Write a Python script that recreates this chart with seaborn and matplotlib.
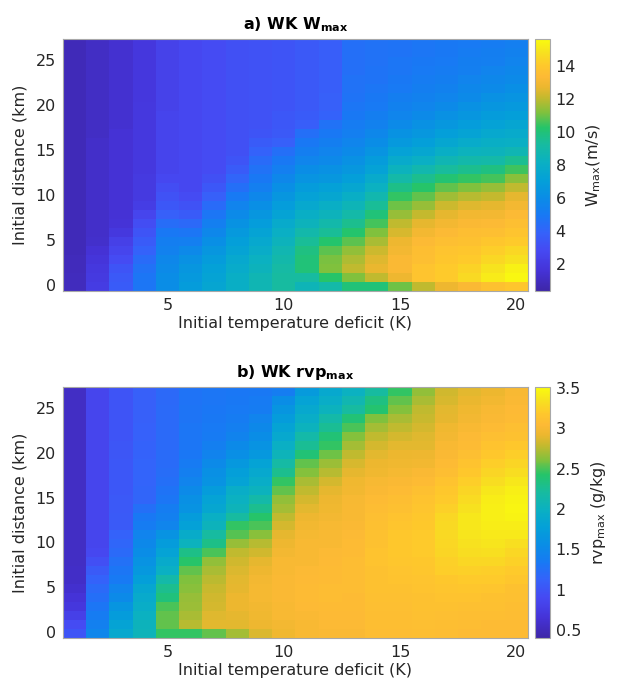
import numpy as np
import pandas as pd
import matplotlib
matplotlib.use("Agg")
import matplotlib.pyplot as plt
import seaborn as sns
from matplotlib.colors import LinearSegmentedColormap

# ---- data ----
DEFICIT = list(range(1, 21))      # initial temperature deficit (K)
DISTANCE = list(range(0, 28))     # initial distance (km)

# W_max (m/s): one list per deficit column, from distance 0 to 27 km
W_MAX = [
    [0.9, 0.9, 0.85, 0.85, 0.8, 0.8, 0.8, 0.8, 0.8, 0.8, 0.8, 0.8, 0.8, 0.8, 0.8, 0.8, 0.8, 0.8, 0.8, 0.8, 0.8, 0.8, 0.8, 0.8, 0.8, 0.8, 0.8, 0.8],
    [2.1, 2.0, 1.9, 1.7, 1.5, 1.3, 1.2, 1.2, 1.2, 1.2, 1.2, 1.2, 1.2, 1.2, 1.2, 1.2, 1.2, 1.1, 1.1, 1.1, 1.1, 1.1, 1.1, 1.1, 1.1, 1.1, 1.1, 1.1],
    [3.6, 3.5, 3.3, 2.9, 2.6, 2.3, 1.9, 1.6, 1.5, 1.5, 1.5, 1.5, 1.5, 1.5, 1.5, 1.5, 1.5, 1.5, 1.4, 1.4, 1.4, 1.4, 1.4, 1.4, 1.4, 1.4, 1.4, 1.4],
    [4.8, 4.8, 4.6, 4.3, 3.9, 3.6, 3.3, 3.0, 2.6, 2.2, 2.0, 2.0, 2.0, 1.9, 1.9, 1.9, 1.9, 1.9, 1.9, 1.9, 1.9, 1.8, 1.8, 1.8, 1.8, 1.8, 1.8, 1.8],
    [6.0, 6.0, 5.9, 5.7, 5.4, 5.2, 4.9, 4.4, 3.8, 3.4, 3.2, 3.0, 2.7, 2.5, 2.5, 2.5, 2.5, 2.5, 2.5, 2.5, 2.4, 2.4, 2.4, 2.4, 2.4, 2.4, 2.4, 2.4],
    [6.8, 6.7, 6.5, 6.2, 5.8, 5.3, 4.8, 4.2, 3.6, 3.2, 2.9, 2.7, 2.7, 2.7, 2.7, 2.7, 2.7, 2.7, 2.7, 2.7, 2.7, 2.7, 2.7, 2.7, 2.7, 2.7, 2.7, 2.7],
    [7.4, 7.3, 7.1, 6.8, 6.5, 6.1, 5.7, 5.3, 4.8, 4.3, 3.8, 3.4, 3.1, 2.9, 2.9, 2.9, 2.9, 2.9, 2.9, 2.9, 2.9, 2.9, 2.9, 2.9, 2.9, 2.9, 2.9, 2.9],
    [8.0, 8.0, 7.8, 7.6, 7.3, 7.0, 6.7, 6.3, 5.9, 5.5, 5.0, 4.5, 4.0, 3.6, 3.3, 3.1, 3.1, 3.1, 3.1, 3.1, 3.1, 3.1, 3.1, 3.1, 3.1, 3.1, 3.1, 3.1],
    [8.6, 8.6, 8.4, 8.2, 7.9, 7.6, 7.3, 6.9, 6.5, 6.1, 5.7, 5.3, 4.9, 4.6, 4.3, 3.9, 3.6, 3.3, 3.2, 3.2, 3.2, 3.2, 3.2, 3.2, 3.2, 3.2, 3.2, 3.2],
    [9.2, 9.2, 9.1, 8.9, 8.7, 8.4, 8.1, 7.7, 7.3, 6.9, 6.5, 6.1, 5.7, 5.3, 4.9, 4.5, 3.8, 3.5, 3.4, 3.4, 3.3, 3.3, 3.3, 3.3, 3.3, 3.3, 3.3, 3.3],
    [8.5, 9.2, 10.0, 10.0, 9.8, 9.4, 8.9, 8.4, 8.0, 7.6, 7.2, 6.8, 6.4, 6.0, 5.6, 5.2, 4.9, 4.5, 3.7, 3.6, 3.5, 3.5, 3.5, 3.5, 3.5, 3.5, 3.5, 3.5],
    [9.0, 10.3, 11.2, 11.1, 10.8, 10.2, 9.4, 8.9, 8.4, 8.0, 7.5, 7.1, 6.6, 6.2, 5.8, 5.5, 5.2, 4.9, 4.6, 3.9, 3.8, 3.8, 3.7, 3.7, 3.7, 3.7, 3.7, 3.7],
    [10.0, 11.2, 12.0, 11.8, 11.4, 10.8, 10.2, 9.6, 9.0, 8.5, 8.0, 7.5, 7.0, 6.6, 6.2, 5.9, 5.6, 5.3, 5.1, 4.9, 4.8, 4.7, 4.6, 4.6, 4.5, 4.5, 4.5, 4.5],
    [10.0, 12.0, 12.7, 12.5, 12.2, 11.7, 11.2, 10.6, 10.0, 9.4, 8.8, 8.2, 7.7, 7.2, 6.8, 6.4, 6.0, 5.7, 5.4, 5.2, 5.0, 4.9, 4.8, 4.7, 4.7, 4.6, 4.6, 4.6],
    [11.0, 12.8, 13.2, 13.2, 13.0, 12.8, 12.4, 12.0, 11.5, 11.0, 10.4, 9.7, 9.0, 8.3, 7.7, 7.2, 6.7, 6.3, 5.9, 5.6, 5.4, 5.2, 5.0, 4.9, 4.8, 4.8, 4.7, 4.7],
    [12.0, 13.8, 13.8, 13.6, 13.5, 13.3, 13.0, 12.6, 12.1, 11.5, 10.9, 10.3, 9.6, 8.8, 8.1, 7.5, 7.0, 6.6, 6.2, 5.9, 5.6, 5.4, 5.2, 5.1, 5.0, 4.9, 4.8, 4.8],
    [12.8, 14.1, 14.1, 13.9, 13.8, 13.6, 13.3, 13.0, 12.6, 12.2, 11.6, 10.9, 10.1, 9.3, 8.6, 8.0, 7.5, 7.0, 6.6, 6.2, 5.9, 5.6, 5.4, 5.2, 5.1, 5.0, 4.9, 4.9],
    [13.2, 14.6, 14.4, 14.1, 13.9, 13.7, 13.5, 13.2, 12.9, 12.5, 11.9, 11.2, 10.4, 9.6, 8.9, 8.3, 7.8, 7.3, 6.9, 6.5, 6.2, 5.9, 5.7, 5.5, 5.3, 5.2, 5.1, 5.0],
    [13.7, 15.1, 14.9, 14.5, 14.2, 13.9, 13.6, 13.3, 13.0, 12.6, 12.1, 11.5, 10.6, 9.8, 9.0, 8.4, 8.0, 7.6, 7.2, 6.8, 6.5, 6.2, 5.9, 5.7, 5.5, 5.3, 5.2, 5.1],
    [13.9, 15.5, 15.3, 14.8, 14.5, 14.1, 13.8, 13.6, 13.3, 13.0, 12.6, 12.0, 11.3, 10.5, 9.5, 8.6, 8.1, 7.7, 7.4, 7.0, 6.7, 6.4, 6.1, 5.9, 5.7, 5.5, 5.4, 5.3],
]

# rvp_max (g/kg), same layout
RVP_MAX = [
    [1.0, 0.92, 0.8, 0.7, 0.65, 0.6, 0.57, 0.56, 0.55, 0.55, 0.55, 0.55, 0.55, 0.55, 0.55, 0.55, 0.55, 0.55, 0.55, 0.55, 0.55, 0.55, 0.55, 0.55, 0.55, 0.55, 0.55, 0.55],
    [1.48, 1.42, 1.36, 1.3, 1.25, 1.2, 1.12, 1.05, 0.95, 0.88, 0.86, 0.86, 0.86, 0.86, 0.85, 0.85, 0.85, 0.85, 0.85, 0.85, 0.85, 0.85, 0.85, 0.85, 0.85, 0.85, 0.85, 0.85],
    [1.88, 1.82, 1.72, 1.65, 1.52, 1.45, 1.34, 1.3, 1.26, 1.2, 1.16, 1.12, 1.05, 1.05, 1.04, 1.04, 1.03, 1.03, 1.02, 1.02, 1.01, 1.01, 1.0, 1.0, 1.0, 1.0, 1.0, 1.0],
    [2.05, 2.03, 2.0, 1.95, 1.9, 1.85, 1.75, 1.68, 1.62, 1.55, 1.5, 1.45, 1.37, 1.33, 1.25, 1.15, 1.15, 1.14, 1.13, 1.13, 1.12, 1.12, 1.11, 1.11, 1.1, 1.1, 1.1, 1.1],
    [2.45, 2.55, 2.55, 2.5, 2.35, 2.28, 2.15, 1.98, 1.9, 1.8, 1.72, 1.62, 1.46, 1.42, 1.38, 1.3, 1.28, 1.25, 1.22, 1.21, 1.21, 1.2, 1.2, 1.2, 1.19, 1.19, 1.18, 1.18],
    [2.45, 2.75, 2.72, 2.68, 2.66, 2.63, 2.6, 2.55, 2.42, 2.3, 2.02, 1.92, 1.78, 1.72, 1.62, 1.58, 1.52, 1.45, 1.4, 1.35, 1.32, 1.31, 1.3, 1.3, 1.29, 1.29, 1.28, 1.28],
    [2.55, 2.88, 2.87, 2.84, 2.82, 2.8, 2.76, 2.72, 2.65, 2.5, 2.3, 2.2, 2.03, 1.97, 1.85, 1.8, 1.72, 1.62, 1.58, 1.52, 1.44, 1.4, 1.35, 1.34, 1.33, 1.32, 1.31, 1.3],
    [2.7, 2.88, 2.9, 2.92, 2.92, 2.9, 2.88, 2.86, 2.82, 2.78, 2.66, 2.52, 2.45, 2.2, 2.05, 2.0, 1.95, 1.8, 1.75, 1.68, 1.57, 1.52, 1.44, 1.4, 1.36, 1.34, 1.33, 1.32],
    [2.86, 2.93, 2.95, 2.96, 2.98, 2.98, 2.97, 2.93, 2.9, 2.82, 2.75, 2.63, 2.5, 2.42, 2.28, 2.15, 2.02, 1.95, 1.88, 1.8, 1.68, 1.62, 1.55, 1.5, 1.45, 1.37, 1.35, 1.33],
    [2.95, 2.97, 3.0, 3.01, 3.02, 3.02, 3.02, 3.01, 3.0, 2.97, 2.93, 2.9, 2.84, 2.78, 2.7, 2.65, 2.55, 2.45, 2.28, 2.18, 2.05, 1.97, 1.88, 1.82, 1.72, 1.65, 1.55, 1.38],
    [3.0, 3.01, 3.02, 3.04, 3.05, 3.05, 3.04, 3.03, 3.01, 3.0, 3.0, 2.98, 2.96, 2.93, 2.88, 2.84, 2.77, 2.72, 2.62, 2.55, 2.38, 2.25, 2.15, 2.02, 1.95, 1.87, 1.8, 1.7],
    [3.02, 3.03, 3.04, 3.06, 3.07, 3.07, 3.06, 3.05, 3.04, 3.03, 3.01, 3.0, 2.99, 2.97, 2.95, 2.93, 2.9, 2.83, 2.75, 2.68, 2.57, 2.45, 2.38, 2.25, 2.15, 2.02, 1.95, 1.88],
    [3.02, 3.03, 3.04, 3.05, 3.06, 3.07, 3.07, 3.07, 3.07, 3.06, 3.05, 3.03, 3.02, 3.01, 3.0, 2.99, 2.96, 2.94, 2.9, 2.85, 2.77, 2.7, 2.62, 2.5, 2.38, 2.2, 2.1, 2.0],
    [3.07, 3.08, 3.08, 3.09, 3.1, 3.11, 3.12, 3.12, 3.13, 3.13, 3.12, 3.11, 3.1, 3.09, 3.07, 3.05, 3.02, 2.99, 2.95, 2.92, 2.89, 2.84, 2.78, 2.7, 2.6, 2.4, 2.32, 2.2],
    [3.07, 3.08, 3.08, 3.09, 3.1, 3.12, 3.13, 3.14, 3.16, 3.17, 3.17, 3.17, 3.15, 3.13, 3.1, 3.08, 3.05, 3.02, 2.98, 2.95, 2.92, 2.88, 2.84, 2.78, 2.72, 2.62, 2.55, 2.45],
    [3.08, 3.09, 3.1, 3.11, 3.12, 3.13, 3.14, 3.16, 3.18, 3.2, 3.2, 3.2, 3.19, 3.17, 3.15, 3.13, 3.1, 3.06, 3.02, 2.96, 2.93, 2.89, 2.87, 2.84, 2.8, 2.77, 2.72, 2.65],
    [3.07, 3.08, 3.09, 3.12, 3.13, 3.15, 3.18, 3.22, 3.24, 3.27, 3.29, 3.3, 3.3, 3.28, 3.24, 3.2, 3.17, 3.13, 3.08, 3.05, 3.02, 3.0, 2.97, 2.94, 2.9, 2.88, 2.85, 2.82],
    [3.06, 3.07, 3.08, 3.1, 3.13, 3.16, 3.2, 3.24, 3.28, 3.32, 3.35, 3.37, 3.38, 3.38, 3.35, 3.31, 3.27, 3.22, 3.17, 3.13, 3.09, 3.06, 3.03, 3.0, 2.97, 2.94, 2.91, 2.88],
    [3.05, 3.06, 3.08, 3.1, 3.12, 3.15, 3.2, 3.23, 3.28, 3.33, 3.37, 3.4, 3.42, 3.43, 3.43, 3.42, 3.38, 3.32, 3.27, 3.22, 3.17, 3.13, 3.09, 3.06, 3.02, 3.0, 2.96, 2.92],
    [3.05, 3.06, 3.07, 3.08, 3.1, 3.12, 3.16, 3.2, 3.25, 3.28, 3.33, 3.39, 3.42, 3.45, 3.47, 3.46, 3.43, 3.38, 3.32, 3.27, 3.22, 3.17, 3.12, 3.09, 3.06, 3.04, 3.02, 3.0],
]

X_TICKS = [5, 10, 15, 20]
Y_TICKS = [0, 5, 10, 15, 20, 25]
W_CTICKS = [2, 4, 6, 8, 10, 12, 14]
RVP_CTICKS = [0.5, 1, 1.5, 2, 2.5, 3, 3.5]

# parula-like colormap (MATLAB default)
PARULA = LinearSegmentedColormap.from_list("parula", [
    (0.00, "#3E26A8"), (0.08, "#4533D8"), (0.16, "#4649F2"), (0.23, "#3562FA"),
    (0.30, "#1879F4"), (0.37, "#0A8DE6"), (0.44, "#04A0D8"), (0.51, "#0AB0C3"),
    (0.58, "#17BBA0"), (0.65, "#25C46A"), (0.71, "#80C13D"), (0.77, "#C6B92E"),
    (0.81, "#ECB72F"), (0.85, "#FDBA35"), (0.90, "#FEC92B"), (0.95, "#F7E11F"),
    (1.00, "#F9FB0E"),
])

sns.set_style("white")
plt.rcParams["font.family"] = ["DejaVu Sans"]
FS = 11.5
TXT = "#262626"
EDGE = "#a8a8a8"


def panel(fig, rect, crect, cols, vmin, vmax, cticks, title, clabel):
    ax = fig.add_axes(rect)
    cax = fig.add_axes(crect)
    df = pd.DataFrame(np.array(cols).T, index=DISTANCE, columns=DEFICIT)
    sns.heatmap(df, ax=ax, cbar_ax=cax, cmap=PARULA, vmin=vmin, vmax=vmax,
                linewidths=0, cbar_kws={"ticks": cticks})
    ax.invert_yaxis()

    ax.set_xticks([DEFICIT.index(v) + 0.5 for v in X_TICKS])
    ax.set_xticklabels([str(v) for v in X_TICKS], rotation=0)
    ax.set_yticks([DISTANCE.index(v) + 0.5 for v in Y_TICKS])
    ax.set_yticklabels([str(v) for v in Y_TICKS], rotation=0)
    ax.tick_params(direction="in", top=True, right=True, length=4, width=0.7,
                   color="#555555", labelsize=FS, labelcolor=TXT, pad=5)
    for s in ax.spines.values():
        s.set_visible(True)
        s.set_color(EDGE)
        s.set_linewidth(0.8)
    ax.set_xlabel("Initial temperature deficit (K)", fontsize=FS, color=TXT, labelpad=2)
    ax.set_ylabel("Initial distance (km)", fontsize=FS, color=TXT, labelpad=6)
    ax.set_title(title, fontsize=FS, fontweight="bold", color="black", pad=7)

    cb = ax.collections[0].colorbar
    cb.outline.set_linewidth(0.8)
    cb.outline.set_edgecolor(EDGE)
    cb.set_ticks(cticks)
    cb.set_ticklabels([f"{t:g}" for t in cticks])
    cax.tick_params(direction="in", length=3, width=0.6, color="#777777",
                    labelsize=FS, labelcolor=TXT, pad=4)
    cb.set_label(clabel, fontsize=FS, color=TXT, labelpad=6)
    return ax


fig = plt.figure(figsize=(6.17, 6.85), dpi=100)

panel(fig, [0.1021, 0.5752, 0.7536, 0.3679], [0.8671, 0.5752, 0.0243, 0.3679],
      W_MAX, 0.35, 15.63, W_CTICKS,
      r"a) WK W$_{\mathbf{max}}$", r"W$_{\rm max}$(m/s)")
panel(fig, [0.1021, 0.0686, 0.7536, 0.3664], [0.8671, 0.0686, 0.0243, 0.3664],
      RVP_MAX, 0.40, 3.51, RVP_CTICKS,
      r"b) WK rvp$_{\mathbf{max}}$", r"rvp$_{\rm max}$ (g/kg)")

fig.savefig("out.png", dpi=100)
